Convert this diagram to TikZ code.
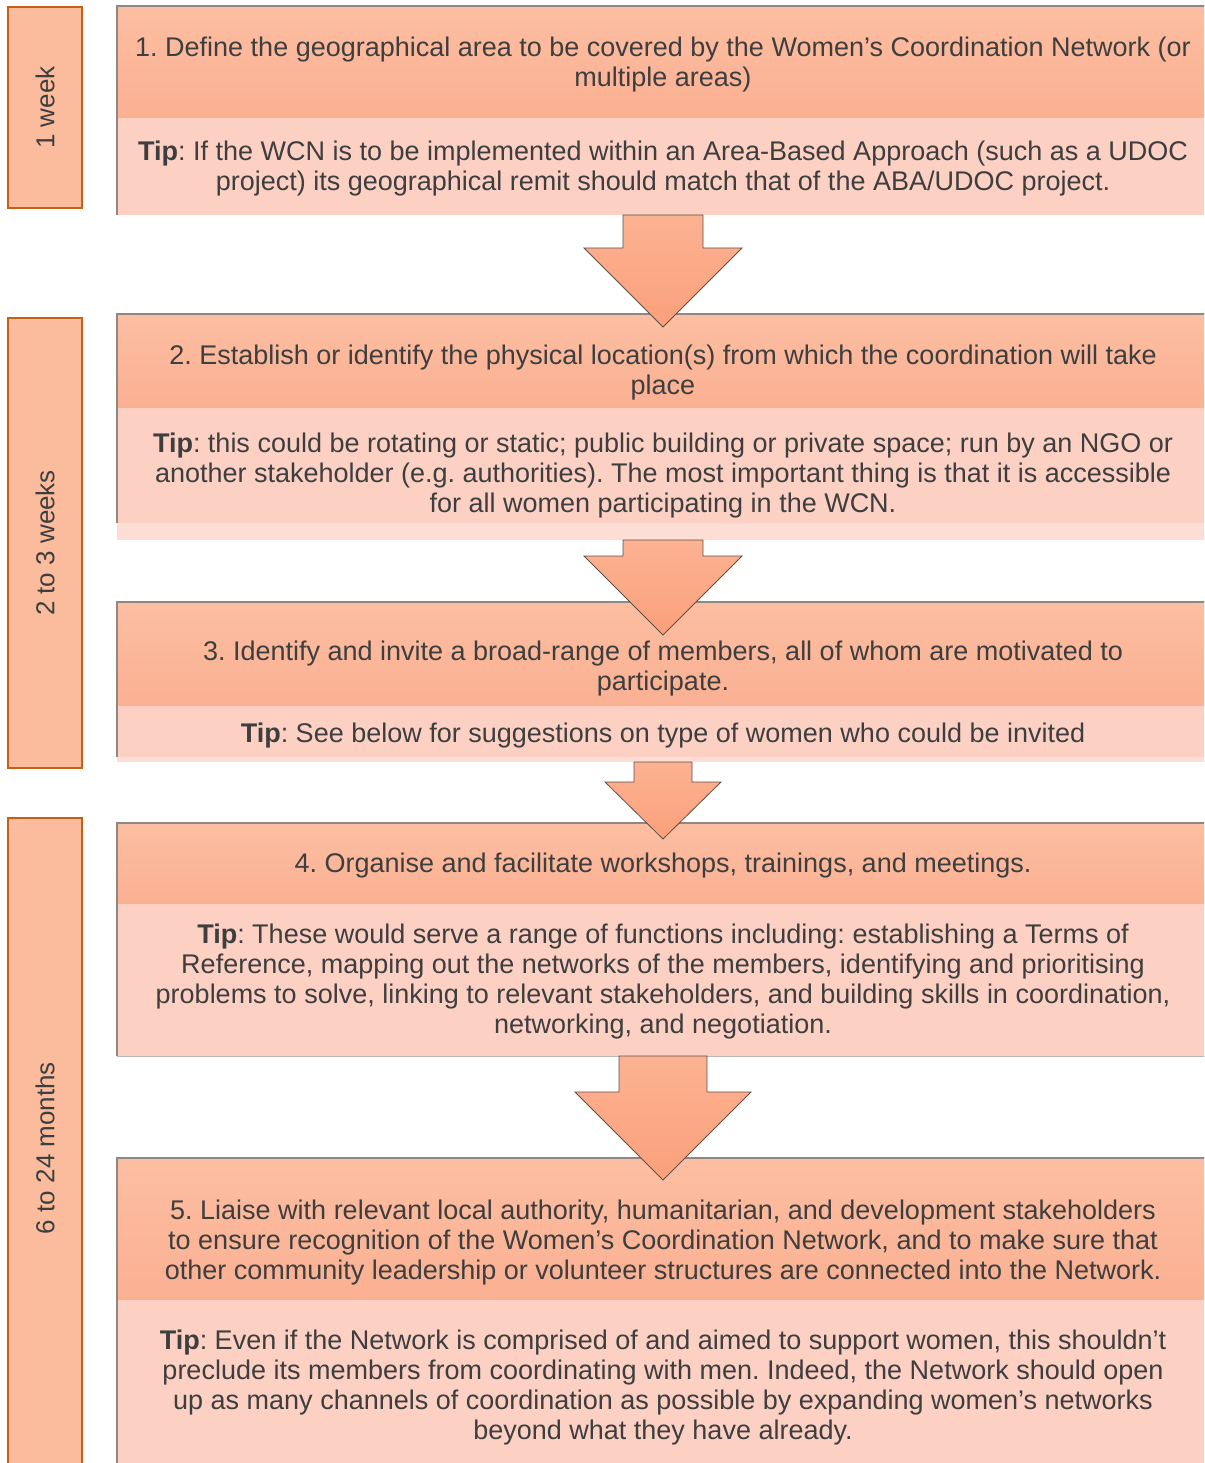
\documentclass[tikz,border=0pt]{standalone}
\usepackage{fontspec}
\setmainfont{Liberation Sans}
\usetikzlibrary{calc}
\definecolor{topA}{RGB}{252,190,162}
\definecolor{topB}{RGB}{251,176,146}
\definecolor{tipfill}{RGB}{253,208,196}
\definecolor{stripfill}{RGB}{253,222,214}
\definecolor{sidefill}{RGB}{251,188,158}
\definecolor{sideborder}{RGB}{200,95,20}
\definecolor{boxborder}{RGB}{145,135,130}
\definecolor{arrA}{RGB}{252,178,146}
\definecolor{arrB}{RGB}{251,160,122}
\definecolor{arrborder}{RGB}{95,80,72}
\definecolor{textcol}{RGB}{62,62,62}
\newcommand{\blockarr}[6]{%
  \path[blockarrowsty] ($(#1.south)+(-#3,0)$) -- ++(0,#5) -- ++(#3-#4,0)
    -- ($(#2.north)+(0,#6)$) -- ($(#1.south)+(#4,#5)$) -- ++(#3-#4,0)
    -- ($(#1.south)+(#3,0)$) -- cycle;}
\begin{document}
\frenchspacing
\begin{tikzpicture}[x=1pt,y=-1pt,
  every node/.style={inner sep=0pt,outer sep=0pt},
  topbox/.style={rectangle,anchor=north west,minimum width=1092,top color=topA,bottom color=topB},
  tipbox/.style={rectangle,anchor=north west,minimum width=1092,fill=tipfill},
  stripbox/.style={rectangle,anchor=north west,minimum width=1092,fill=stripfill},
  sidebox/.style={rectangle,anchor=north west,minimum width=74,fill=sidefill,draw=sideborder,line width=1.5pt,text=textcol,font=\fontsize{26}{30}\selectfont},
  outline/.style={draw=boxborder,line width=1.2pt},
  txt/.style={align=center,text=textcol,font=\fontsize{27}{30}\selectfont},
  blockarrowsty/.style={top color=arrA,bottom color=arrB,draw=arrborder,line width=0.8pt,line join=miter}
]
\useasboundingbox (0,0) rectangle (1204,1463);
\clip (0,0) rectangle (1204,1463);

% side boxes
\node[sidebox,minimum height=201] (w1) at (8,7) {\rotatebox{90}{1 week}};
\node[sidebox,minimum height=450] (w2) at (8,318) {\rotatebox{90}{2 to 3 weeks}};
\node[sidebox,minimum height=660] (w3) at (8,818) {\rotatebox{90}{6 to 24 months}};

% step boxes
\node[topbox,minimum height=112] (t1) at (117,6) {};
\node[tipbox,minimum height=97] (p1) at (117,118) {};
\draw[outline] (p1.south west) -- (t1.north west) -- (t1.north east);

\node[topbox,minimum height=94] (t2) at (117,314) {};
\node[tipbox,minimum height=115] (p2) at (117,408) {};
\node[stripbox,minimum height=17] (q2) at (117,523) {};
\draw[outline] (p2.south west) -- (t2.north west) -- (t2.north east);

\node[topbox,minimum height=104] (t3) at (117,602) {};
\node[tipbox,minimum height=51] (p3) at (117,706) {};
\node[stripbox,minimum height=5] (q3) at (117,757) {};
\draw[outline] (p3.south west) -- (t3.north west) -- (t3.north east);

\node[topbox,minimum height=81] (t4) at (117,823) {};
\node[tipbox,minimum height=152] (p4) at (117,904) {};
\draw[outline] (p4.south west) -- (t4.north west) -- (t4.north east);
\draw[draw=boxborder!60,line width=1pt] (p4.south west) -- (p4.south east);

\node[topbox,minimum height=142] (t5) at (117,1158) {};
\node[tipbox,minimum height=175] (p5) at (117,1300) {};
\draw[outline] (p5.south west) -- (t5.north west) -- (t5.north east);

% arrows
\blockarr{p1}{t2}{40}{79}{33}{13}
\blockarr{q2}{t3}{40}{79}{16}{33}
\blockarr{q3}{t4}{29}{58}{20}{16}
\blockarr{p4}{t5}{44}{88}{36}{22}

% texts
\node[txt] (x1) at (663,65) {1. Define the geographical area to be covered by the Women’s Coordination Network (or\\multiple areas)};
\node[txt] (y1) at (663,169) {\textbf{Tip}: If the WCN is to be implemented within an Area-Based Approach (such as a UDOC\\project) its geographical remit should match that of the ABA/UDOC project.};
\node[txt] (x2) at (663,373) {2. Establish or identify the physical location(s) from which the coordination will take\\place};
\node[txt] (y2) at (663,476) {\textbf{Tip}: this could be rotating or static; public building or private space; run by an NGO or\\another stakeholder (e.g. authorities). The most important thing is that it is accessible\\for all women participating in the WCN.};
\node[txt] (x3) at (663,669) {3. Identify and invite a broad-range of members, all of whom are motivated to\\participate.};
\node[txt] (y3) at (663,736) {\textbf{Tip}: See below for suggestions on type of women who could be invited};
\node[txt] (x4) at (663,866) {4. Organise and facilitate workshops, trainings, and meetings.};
\node[txt] (y4) at (663,982) {\textbf{Tip}: These would serve a range of functions including: establishing a Terms of\\Reference, mapping out the networks of the members, identifying and prioritising\\problems to solve, linking to relevant stakeholders, and building skills in coordination,\\networking, and negotiation.};
\node[txt] (x5) at (663,1243) {5. Liaise with relevant local authority, humanitarian, and development stakeholders\\to ensure recognition of the Women’s Coordination Network, and to make sure that\\other community leadership or volunteer structures are connected into the Network.};
\node[txt] (y5) at (663,1388) {\textbf{Tip}: Even if the Network is comprised of and aimed to support women, this shouldn’t\\preclude its members from coordinating with men. Indeed, the Network should open\\up as many channels of coordination as possible by expanding women’s networks\\beyond what they have already.};
\end{tikzpicture}
\end{document}
